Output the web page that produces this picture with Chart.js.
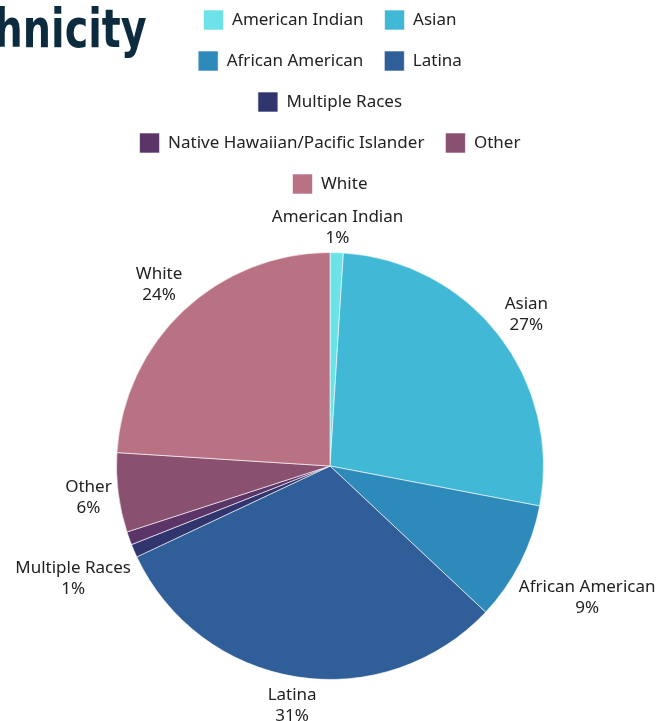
<!DOCTYPE html>
<html lang="en">
<head>
<meta charset="UTF-8">
<title>Ethnicity</title>
<script src="https://cdn.jsdelivr.net/npm/chart.js@4.4.1/dist/chart.umd.min.js"></script>
<style>
  html, body { margin: 0; padding: 0; background: #fff; overflow: hidden; }
  #wrap { position: relative; width: 660px; height: 721px; }
  #chart { position: absolute; left: 0; top: 0; }
  #title {
    position: absolute; right: 513px; top: 2px;
    font: bold 54px "DejaVu Sans", sans-serif;
    line-height: 1; color: #0d2b3e; white-space: nowrap;
    transform: scaleX(0.735); transform-origin: right top;
  }
</style>
</head>
<body>
<div id="wrap">
  <canvas id="chart" width="660" height="721"></canvas>
  <div id="title">Ethnicity</div>
</div>
<script>
// data (percent of total)
const groups = ['American Indian', 'Asian', 'African American', 'Latina', 'Multiple Races',
                'Native Hawaiian/Pacific Islander', 'Other', 'White'];
const shares = [1, 27, 9, 31, 1, 1, 6, 24];
const sliceColors = ['#6de2e7', '#41b8d6', '#2d8aba', '#2f5e98', '#31356e', '#5b3567', '#8a5070', '#b97283'];

const FONT = '"Noto Sans", "Open Sans", sans-serif';
const TEXT = '#222222';

// push the chart area down below the legend
const legendGap = {
  id: 'legendGap',
  beforeInit(chart) {
    const fit = chart.legend.fit;
    chart.legend.fit = function () {
      fit.call(this);
      this.height += 48;
    };
  }
};

// two-line labels outside each slice, skipped when they would collide
const outerLabels = {
  id: 'outerLabels',
  afterDraw(chart) {
    const ctx = chart.ctx;
    const meta = chart.getDatasetMeta(0);
    const lineH = 21, gap = 5;
    const placed = [];
    ctx.save();
    ctx.font = '17px ' + FONT;
    ctx.fillStyle = TEXT;
    ctx.textAlign = 'center';
    ctx.textBaseline = 'middle';
    meta.data.forEach((arc, i) => {
      const p = arc.getProps(['x', 'y', 'startAngle', 'endAngle', 'outerRadius'], true);
      const mid = (p.startAngle + p.endAngle) / 2;
      const ux = Math.cos(mid), uy = Math.sin(mid);
      const lines = [groups[i], shares[i] + '%'];
      const w = Math.max(...lines.map(s => ctx.measureText(s).width));
      const h = lines.length * lineH;
      const target = p.outerRadius + gap;
      let lo = 0, hi = 1000;
      for (let k = 0; k < 40; k++) {
        const t = (lo + hi) / 2;
        const dx = Math.max(0, Math.abs(ux * t) - w / 2);
        const dy = Math.max(0, Math.abs(uy * t) - h / 2);
        if (Math.hypot(dx, dy) < target) lo = t; else hi = t;
      }
      const cx = p.x + ux * lo, cy = p.y + uy * lo + 1;
      const box = { l: cx - w / 2, r: cx + w / 2, t: cy - h / 2, b: cy + h / 2 };
      const hit = placed.some(o => box.l < o.r && box.r > o.l && box.t < o.b && box.b > o.t);
      if (hit) return;
      placed.push(box);
      lines.forEach((s, j) => ctx.fillText(s, cx, cy - h / 2 + lineH * (j + 0.5)));
    });
    ctx.restore();
  }
};

new Chart(document.getElementById('chart'), {
  type: 'pie',
  data: {
    labels: groups,
    datasets: [{
      data: shares,
      backgroundColor: sliceColors,
      borderColor: 'rgba(255,255,255,0.6)',
      borderWidth: 1
    }]
  },
  options: {
    responsive: false,
    animation: false,
    layout: { padding: { top: -11, left: 105, right: 105, bottom: 41 } },
    plugins: {
      legend: {
        position: 'top',
        labels: {
          boxWidth: 20,
          boxHeight: 20,
          padding: 21,
          color: TEXT,
          font: { family: FONT, size: 17 }
        }
      },
      tooltip: { enabled: false }
    }
  },
  plugins: [legendGap, outerLabels]
});
</script>
</body>
</html>
